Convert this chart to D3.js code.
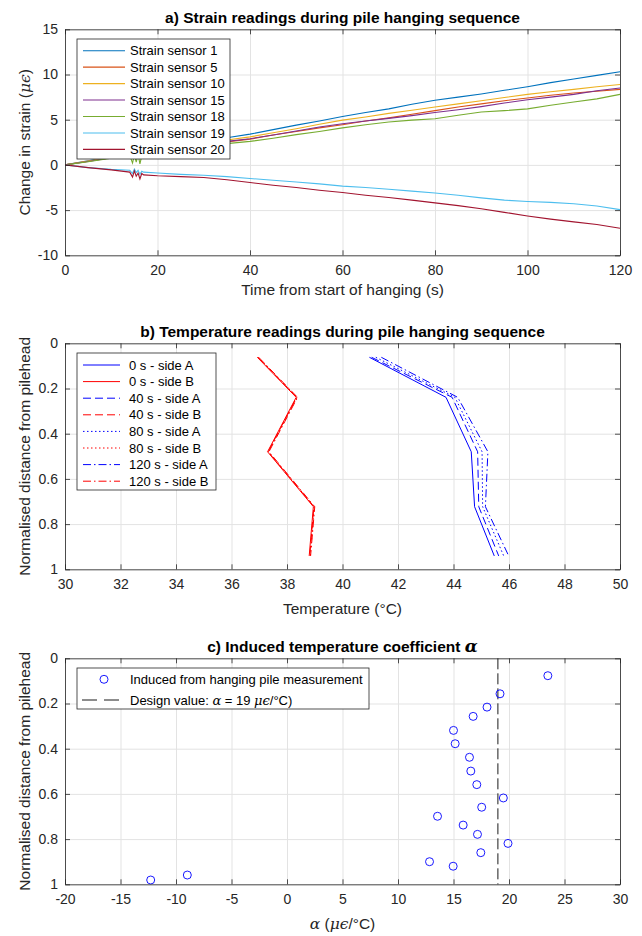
<!DOCTYPE html>
<html>
<head>
<meta charset="utf-8">
<script src="https://cdn.jsdelivr.net/npm/d3@7"></script>
<style>
body { margin: 0; background: #fff; }
text { font-family: "Liberation Sans", Arial, sans-serif; }
.grid line { stroke: #e3e3e3; stroke-width: 1; }
.grid .domain { display: none; }
.frame .domain, .frame line { stroke: #262626; stroke-width: 0.8; }
.frame text { font-size: 14px; fill: #262626; font-family: "Liberation Sans", Arial, sans-serif; }
.math { font-family: "DejaVu Serif", "Liberation Serif", serif; font-style: italic; }
</style>
</head>
<body>
<script>
// ---- a) strain readings ----
var times = [0, 5, 10, 14, 14.6, 15, 15.4, 15.8, 16.2, 16.6, 17, 20, 25, 30, 35, 40, 45, 50, 55, 60,
             65, 70, 75, 80, 85, 90, 95, 100, 105, 110, 115, 120];
var sensor1  = [0, 0.45, 0.95, 1.3, 1.35, 1.4, 1.42, 1.45, 1.5, 1.52, 1.55, 1.8, 2.2, 2.6, 3.0, 3.4, 3.9, 4.4, 4.85, 5.35,
                5.8, 6.2, 6.7, 7.15, 7.5, 7.85, 8.25, 8.65, 9.1, 9.5, 9.9, 10.3];
var sensor5  = [0, 0.4, 0.8, 1.1, 1.15, 1.18, 1.2, 1.22, 1.25, 1.28, 1.3, 1.55, 1.9, 2.25, 2.55, 2.85, 3.3, 3.7, 4.1, 4.45,
                4.85, 5.2, 5.6, 6.0, 6.4, 6.75, 7.1, 7.4, 7.7, 7.95, 8.15, 8.35];
var sensor10 = [0, 0.42, 0.85, 1.2, 1.25, 1.28, 1.3, 1.33, 1.36, 1.38, 1.4, 1.65, 2.0, 2.4, 2.75, 3.1, 3.55, 4.0, 4.5, 4.95,
                5.3, 5.7, 6.05, 6.4, 6.75, 7.1, 7.45, 7.8, 8.1, 8.35, 8.65, 8.9];
var sensor15 = [0, 0.38, 0.8, 1.1, 1.14, 1.17, 1.2, 1.22, 1.25, 1.27, 1.3, 1.55, 1.9, 2.25, 2.6, 2.9, 3.3, 3.75, 4.2, 4.55,
                4.85, 5.15, 5.45, 5.8, 6.1, 6.45, 6.85, 7.2, 7.5, 7.8, 8.2, 8.5];
var sensor18 = [0, 0.35, 0.75, 1.05, 0.2, 1.1, 0.3, 1.2, 0.1, 1.0, 1.25, 1.45, 1.75, 2.1, 2.35, 2.6, 2.95, 3.35, 3.7, 4.1,
                4.45, 4.75, 4.95, 5.1, 5.5, 5.85, 6.0, 6.2, 6.6, 6.95, 7.3, 7.8];
var sensor19 = [0, -0.3, -0.5, -0.6, -0.95, -0.45, -0.85, -0.6, -1.05, -0.7, -0.8, -0.9, -1.05, -1.15, -1.3, -1.5, -1.7, -1.9, -2.1, -2.35,
                -2.5, -2.7, -2.9, -3.1, -3.35, -3.65, -3.9, -4.05, -4.15, -4.3, -4.55, -4.95];
var sensor20 = [0, -0.3, -0.55, -0.8, -1.35, -0.65, -1.25, -0.9, -1.55, -0.95, -1.1, -1.2, -1.3, -1.4, -1.65, -1.95, -2.25, -2.5, -2.8, -3.05,
                -3.35, -3.6, -3.9, -4.2, -4.5, -4.85, -5.25, -5.65, -6.0, -6.3, -6.6, -7.0];
var sensorNames = ['Strain sensor 1', 'Strain sensor 5', 'Strain sensor 10', 'Strain sensor 15',
                   'Strain sensor 18', 'Strain sensor 19', 'Strain sensor 20'];
var strainTicksX = [0, 20, 40, 60, 80, 100, 120];
var strainTicksY = [-10, -5, 0, 5, 10, 15];

// ---- b) temperature readings ----
var depths = [0.062, 0.239, 0.48, 0.723, 0.941];
var tempA0   = [40.97, 43.73, 44.64, 44.76, 45.47];
var tempB0   = [36.93, 38.33, 37.30, 38.95, 38.80];
var tempA40  = [41.05, 43.95, 44.87, 44.91, 45.63];
var tempB40  = [36.95, 38.35, 37.32, 38.97, 38.82];
var tempA80  = [41.20, 44.05, 45.03, 45.05, 45.81];
var tempB80  = [36.97, 38.36, 37.33, 38.98, 38.84];
var tempA120 = [41.40, 44.15, 45.24, 45.15, 45.99];
var tempB120 = [36.98, 38.38, 37.35, 39.00, 38.85];
var tempLabels = ['0 s - side A', '0 s - side B', '40 s - side A', '40 s - side B',
                  '80 s - side A', '80 s - side B', '120 s - side A', '120 s - side B'];
var tempTicksX = [30, 32, 34, 36, 38, 40, 42, 44, 46, 48, 50];
var depthTicks = [0, 0.2, 0.4, 0.6, 0.8, 1];

// ---- c) induced temperature coefficient ----
var alphaValues = [23.5, 19.19, 18.02, 16.77, 15.0, 15.15, 16.44, 16.56, 17.1, 19.49,
                   17.54, 13.56, 15.87, 17.16, 19.91, 17.46, 12.84, 14.97, -12.28, -8.98];
var alphaDepths = [0.077, 0.157, 0.216, 0.257, 0.319, 0.378, 0.438, 0.499, 0.559, 0.618,
                   0.659, 0.699, 0.738, 0.779, 0.819, 0.86, 0.9, 0.92, 0.981, 0.959];
var designAlpha = 19;
var alphaTicks = [-20, -15, -10, -5, 0, 5, 10, 15, 20, 25, 30];

var sensorColors = ['#0072BD', '#D95319', '#EDB120', '#7E2F8E', '#77AC30', '#4DBEEE', '#A2142F'];

var svg = d3.select('body').append('svg').attr('width', 642).attr('height', 936);
svg.append('rect').attr('width', 642).attr('height', 936).attr('fill', '#fff');

var left = 65, right = 620, plotH = 226;

function makePanel(top, xDomain, yDomain, xTicks, yTicks, flipY) {
	var x = d3.scaleLinear().domain(xDomain).range([left, right]);
	var y = d3.scaleLinear().domain(yDomain).range(flipY ? [top, top + plotH] : [top + plotH, top]);
	var g = svg.append('g');
	g.append('g').attr('class', 'grid').attr('transform', `translate(0,${top})`)
		.call(d3.axisBottom(x).tickValues(xTicks).tickSize(plotH).tickFormat(''));
	g.append('g').attr('class', 'grid').attr('transform', `translate(${left},0)`)
		.call(d3.axisRight(y).tickValues(yTicks).tickSize(right - left).tickFormat(''));
	var marks = g.append('g');
	var frame = g.append('g').attr('class', 'frame');
	frame.append('g').attr('transform', `translate(0,${top + plotH})`)
		.call(d3.axisBottom(x).tickValues(xTicks).tickSizeInner(-5).tickSizeOuter(0).tickPadding(10).tickFormat(String));
	frame.append('g').attr('transform', `translate(0,${top})`)
		.call(d3.axisTop(x).tickValues(xTicks).tickSizeInner(-5).tickSizeOuter(0).tickFormat(''));
	frame.append('g').attr('transform', `translate(${left},0)`)
		.call(d3.axisLeft(y).tickValues(yTicks).tickSizeInner(-5).tickSizeOuter(0).tickPadding(7).tickFormat(String));
	frame.append('g').attr('transform', `translate(${right},0)`)
		.call(d3.axisRight(y).tickValues(yTicks).tickSizeInner(-5).tickSizeOuter(0).tickFormat(''));
	var legend = g.append('g');
	return {x: x, y: y, marks: marks, legend: legend, top: top, g: g};
}

function title(p, parts) {
	var t = p.g.append('text').attr('x', (left + right) / 2).attr('y', p.top - 6.5)
		.attr('text-anchor', 'middle').attr('font-size', 15.5).attr('font-weight', 'bold').attr('fill', '#000');
	parts.forEach(s => {
		var ts = t.append('tspan').text(s[0]);
		if (s[1]) ts.attr('class', 'math').attr('font-size', 17);
	});
}

function label(sel, parts) {
	parts.forEach(s => {
		var ts = sel.append('tspan').text(s[0]);
		if (s[1]) ts.attr('class', 'math');
	});
	return sel;
}

function xLabel(p, dy, parts) {
	label(p.g.append('text').attr('x', (left + right) / 2).attr('y', p.top + plotH + dy)
		.attr('text-anchor', 'middle').attr('font-size', 15.5).attr('fill', '#262626'), parts);
}

function yLabel(p, parts) {
	label(p.g.append('text').attr('transform', `translate(30,${p.top + plotH / 2}) rotate(-90)`)
		.attr('text-anchor', 'middle').attr('font-size', 15.5).attr('fill', '#262626'), parts);
}

function legendBox(p, x0, y0, x1, y1) {
	p.legend.append('rect').attr('x', x0).attr('y', y0).attr('width', x1 - x0).attr('height', y1 - y0)
		.attr('fill', '#fff').attr('stroke', '#262626').attr('stroke-width', 0.8);
}

// ===== panel a =====
var pa = makePanel(29.3, [0, 120], [-10, 15], strainTicksX, strainTicksY, false);
var sensors = [sensor1, sensor5, sensor10, sensor15, sensor18, sensor19, sensor20];
var strainLine = d3.line().x((d, i) => pa.x(times[i])).y(d => pa.y(d));
pa.marks.selectAll('path.strain')
	.data(sensors)
	.enter().append('path')
		.attr('class', 'strain')
		.attr('d', d => strainLine(d))
		.attr('fill', 'none')
		.attr('stroke', (d, i) => sensorColors[i])
		.attr('stroke-width', 1.1);
title(pa, [['a) Strain readings during pile hanging sequence']]);
xLabel(pa, 40, [['Time from start of hanging (s)']]);
yLabel(pa, [['Change in strain ('], ['μϵ', 1], [')']]);
legendBox(pa, 77, 39, 230, 159);
sensorNames.forEach((name, i) => {
	var yy = 50.7 + i * 16.45;
	pa.legend.append('line').attr('x1', 83).attr('x2', 125).attr('y1', yy).attr('y2', yy)
		.attr('stroke', sensorColors[i]).attr('stroke-width', 1.1);
	pa.legend.append('text').attr('x', 130).attr('y', yy).attr('dy', '0.35em')
		.attr('font-size', 13).attr('fill', '#000').text(name);
});

// ===== panel b =====
var pb = makePanel(343.3, [30, 50], [0, 1], tempTicksX, depthTicks, true);
var tempSeries = [tempA0, tempB0, tempA40, tempB40, tempA80, tempB80, tempA120, tempB120];
var tempColors = ['#0000FF', '#FF0000'];
var tempDashes = [null, '8,4', '1.5,2.5', '8,3,1.5,3'];
var tempLine = d3.line().x(d => pb.x(d)).y((d, i) => pb.y(depths[i]));
pb.marks.selectAll('path.temp')
	.data(tempSeries)
	.enter().append('path')
		.attr('class', 'temp')
		.attr('d', d => tempLine(d))
		.attr('fill', 'none')
		.attr('stroke', (d, i) => tempColors[i % 2])
		.attr('stroke-width', 1)
		.attr('stroke-dasharray', (d, i) => tempDashes[Math.floor(i / 2)]);
title(pb, [['b) Temperature readings during pile hanging sequence']]);
xLabel(pb, 45, [['Temperature (°C)']]);
yLabel(pb, [['Normalised distance from pilehead']]);
legendBox(pb, 77, 353, 216, 490);
tempLabels.forEach((name, i) => {
	var yy = 365 + i * 16.6;
	pb.legend.append('line').attr('x1', 83).attr('x2', 120).attr('y1', yy).attr('y2', yy)
		.attr('stroke', tempColors[i % 2]).attr('stroke-width', 1)
		.attr('stroke-dasharray', tempDashes[Math.floor(i / 2)]);
	pb.legend.append('text').attr('x', 129).attr('y', yy).attr('dy', '0.35em')
		.attr('font-size', 13).attr('fill', '#000').text(name);
});

// ===== panel c =====
var pc = makePanel(658.3, [-20, 30], [0, 1], alphaTicks, depthTicks, true);
pc.marks.append('line')
	.attr('x1', pc.x(designAlpha)).attr('x2', pc.x(designAlpha))
	.attr('y1', pc.y(0)).attr('y2', pc.y(1))
	.attr('stroke', '#1a1a1a').attr('stroke-width', 1).attr('stroke-dasharray', '11,4');
pc.marks.selectAll('circle')
	.data(alphaValues)
	.enter().append('circle')
		.attr('cx', d => pc.x(d))
		.attr('cy', (d, i) => pc.y(alphaDepths[i]))
		.attr('r', 4)
		.attr('fill', 'none')
		.attr('stroke', '#0000FF')
		.attr('stroke-width', 0.9);
title(pc, [['c) Induced temperature coefficient  '], ['α', 1]]);
xLabel(pc, 45, [['α', 1], [' ('], ['μϵ', 1], ['/°C)']]);
yLabel(pc, [['Normalised distance from pilehead']]);
legendBox(pc, 77, 668, 369, 709);
pc.legend.append('circle').attr('cx', 104).attr('cy', 679.3).attr('r', 4)
	.attr('fill', 'none').attr('stroke', '#0000FF').attr('stroke-width', 0.9);
pc.legend.append('text').attr('x', 130).attr('y', 679.3).attr('dy', '0.35em')
	.attr('font-size', 13).attr('fill', '#000').text('Induced from hanging pile measurement');
pc.legend.append('line').attr('x1', 82).attr('x2', 119).attr('y1', 700).attr('y2', 700)
	.attr('stroke', '#1a1a1a').attr('stroke-width', 1).attr('stroke-dasharray', '15,7');
label(pc.legend.append('text').attr('x', 130).attr('y', 700).attr('dy', '0.35em')
	.attr('font-size', 13).attr('fill', '#000'),
	[['Design value: '], ['α', 1], [' = ' + designAlpha + ' '], ['μϵ', 1], ['/°C)']]);
</script>
</body>
</html>
